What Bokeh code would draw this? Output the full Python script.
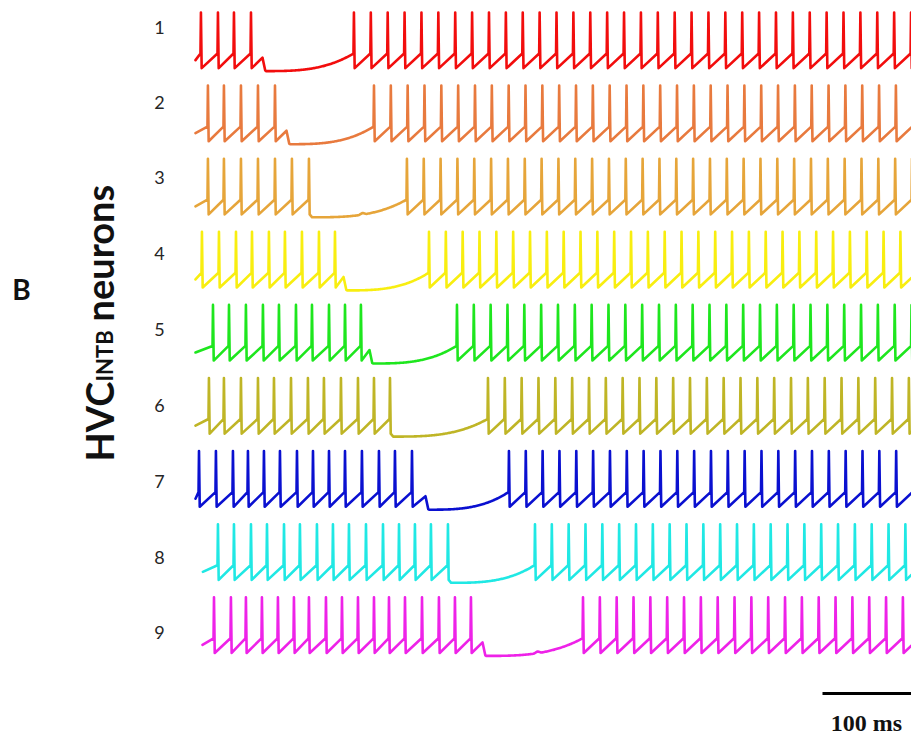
import numpy as np
from bokeh.plotting import figure
from bokeh.models import Range1d, Label
from bokeh.embed import file_html
from bokeh.resources import INLINE

# ---------------- data (times in ms, voltage in mV) ----------------
neuron_labels = ["1", "2", "3", "4", "5", "6", "7", "8", "9"]
trace_colors = ["#F20D0D", "#E87A3E", "#E6A53A", "#F8EE10", "#1EE61E",
                "#BFB526", "#0A10D0", "#20E8E4", "#EE22E8"]
trace_start_ms = [0.0, 0.0, 0.0, 0.0, 0.0, 0.0, 0.0, 8.0, 7.6]

burst_spikes_1 = [5.4, 23.9, 41.3, 59.8]
burst_spikes_2 = [13.0, 30.4, 48.9, 67.4, 85.9]
burst_spikes_3 = [13.0, 30.4, 48.9, 67.4, 85.9, 104.3, 122.8]
burst_spikes_4 = [6.5, 25.0, 43.5, 60.9, 79.3, 96.7, 115.2, 133.7, 151.1]
burst_spikes_5 = [18.5, 35.9, 54.3, 72.8, 90.2, 108.7, 126.1, 144.6, 162.0, 179.3]
burst_spikes_6 = [14.1, 30.4, 48.9, 67.4, 84.8, 103.3, 121.7, 139.1, 157.6, 176.1,
                  193.5, 210.9]
burst_spikes_7 = [3.3, 21.7, 40.2, 56.5, 73.9, 91.3, 109.8, 127.2, 144.6, 162.0,
                  180.4, 198.9, 216.3, 234.8]
burst_spikes_8 = [23.9, 41.3, 59.8, 77.2, 95.7, 113.0, 131.5, 148.9, 166.3, 184.8,
                  203.3, 220.7, 238.0, 255.4, 273.9]
burst_spikes_9 = [19.6, 38.0, 54.3, 71.7, 89.1, 106.5, 122.8, 141.3, 158.7, 176.1,
                  193.5, 209.8, 227.2, 245.7, 264.1, 281.5, 298.9]
burst_spikes = [burst_spikes_1, burst_spikes_2, burst_spikes_3, burst_spikes_4,
                burst_spikes_5, burst_spikes_6, burst_spikes_7, burst_spikes_8,
                burst_spikes_9]

failed_spike_ms = [72.8, 98.9, None, 160.9, 189.1, None, 250.0, None, 312.0]
pause_bump_ms = [[], [], [181.5], [], [], [], [], [], [371.7]]
recovery_spike_ms = [171.7, 193.5, 229.3, 253.3, 283.7, 317.4, 340.2, 368.5, 420.7]
tonic_isi_ms = [18.35, 18.3, 18.3, 18.3, 18.3, 18.3, 18.3, 18.3, 18.3]

V_PEAK, V_THR, V_AHP, V_PAUSE, V_FAIL = 20.0, -50.0, -75.0, -80.0, -57.0
SCALE_BAR_MS = 100.0
scale_label = "100 ms"

# ---------------- layout ----------------
W, H = 911, 738
X0, PX_PER_MS = 195.0, 0.92      # pixel of t = 0, pixels per ms
Y0, PX_PER_MV = 12.0, 0.586      # pixel of first spike peak, pixels per mV
ROW_PX = 73.1
ROW_SP = ROW_PX / PX_PER_MV

def px2t(x):
    return (x - X0) / PX_PER_MS

def py2v(y):
    return V_PEAK - (y - Y0) / PX_PER_MV

T_END = px2t(W) + 30

def build_trace(t0, burst, failed, pbumps, t_rec, isi):
    ts = [t0]
    vs = [V_AHP + 0.55 * (V_THR - V_AHP)]

    def spike(s):
        ts.extend([s, s + 0.5, s + 1.3])
        vs.extend([V_THR, V_PEAK, V_AHP])

    for s in burst:
        spike(s)
    last = burst[-1]
    if failed is not None:
        ts.extend([failed, failed + 3.0])
        vs.extend([V_FAIL, V_PAUSE + 1.0])
        pstart = failed + 3.0
    else:
        ts.append(last + 4.0)
        vs.append(V_PAUSE)
        pstart = last + 4.0
    tt = np.arange(pstart + 1.0, t_rec, 1.0)
    sfrac = (tt - pstart) / (t_rec - pstart)
    vv = V_PAUSE + (V_THR - V_PAUSE) * sfrac ** 3
    for b in pbumps:
        vv = vv + 3.0 * np.clip(1 - np.abs(tt - b) / 4.0, 0, None)
    ts.extend(tt.tolist())
    vs.extend(vv.tolist())
    s = t_rec
    while s < T_END:
        spike(s)
        s += isi
    ts.append(s)
    vs.append(V_THR)
    return np.array(ts), np.array(vs)

p = figure(width=W, height=H, output_backend="svg", toolbar_location=None,
           x_range=Range1d(px2t(0), px2t(W)), y_range=Range1d(py2v(H), py2v(0)),
           x_axis_type=None, y_axis_type=None,
           min_border=0, min_border_left=0, min_border_right=0,
           min_border_top=0, min_border_bottom=0)
p.grid.visible = False
p.outline_line_color = None
p.background_fill_color = "white"
p.border_fill_color = "white"

for i in range(9):
    t, v = build_trace(trace_start_ms[i], burst_spikes[i], failed_spike_ms[i],
                       pause_bump_ms[i], recovery_spike_ms[i], tonic_isi_ms[i])
    p.line(t, v - i * ROW_SP, line_color=trace_colors[i], line_width=2.6,
           line_join="round", line_cap="round")

# neuron numbers
label_y_px = [27, 101.5, 177, 252.5, 329, 405, 481, 556.5, 632]
for i, lab in enumerate(neuron_labels):
    p.add_layout(Label(x=px2t(159), y=py2v(label_y_px[i]), text=lab,
                       text_font="Lato", text_font_size="18px",
                       text_color="#262626", text_align="center",
                       text_baseline="middle"))

# panel letter
p.add_layout(Label(x=px2t(21), y=py2v(288), text="B", text_font="Lato",
                   text_font_style="bold", text_font_size="28px",
                   text_color="#111111", text_align="center",
                   text_baseline="middle"))

# rotated axis title: HVC_INTB neurons  (centre lines of the glyphs)
main_x = px2t(98)
sub_x = px2t(104)
p.add_layout(Label(x=main_x, y=py2v(461), text="HVC", angle=np.pi / 2,
                   text_font="Lato", text_font_style="bold", text_font_size="38px",
                   text_color="#111111", text_align="left",
                   text_baseline="middle"))
p.add_layout(Label(x=sub_x, y=py2v(381), text="INTB", angle=np.pi / 2,
                   text_font="Lato", text_font_style="bold", text_font_size="22px",
                   text_color="#111111", text_align="left",
                   text_baseline="middle"))
p.add_layout(Label(x=main_x, y=py2v(321), text="neurons", angle=np.pi / 2,
                   text_font="Lato", text_font_style="bold", text_font_size="38px",
                   text_color="#111111", text_align="left",
                   text_baseline="middle"))

# scale bar
bar_t0 = px2t(822)
p.line([bar_t0, bar_t0 + SCALE_BAR_MS], [py2v(693), py2v(693)],
       line_color="black", line_width=3)
p.add_layout(Label(x=px2t(866), y=py2v(722), text=scale_label,
                   text_font="Liberation Serif", text_font_style="bold",
                   text_font_size="24px", text_color="#111111",
                   text_align="center", text_baseline="middle"))

open("out.html", "w").write(file_html(p, INLINE))
